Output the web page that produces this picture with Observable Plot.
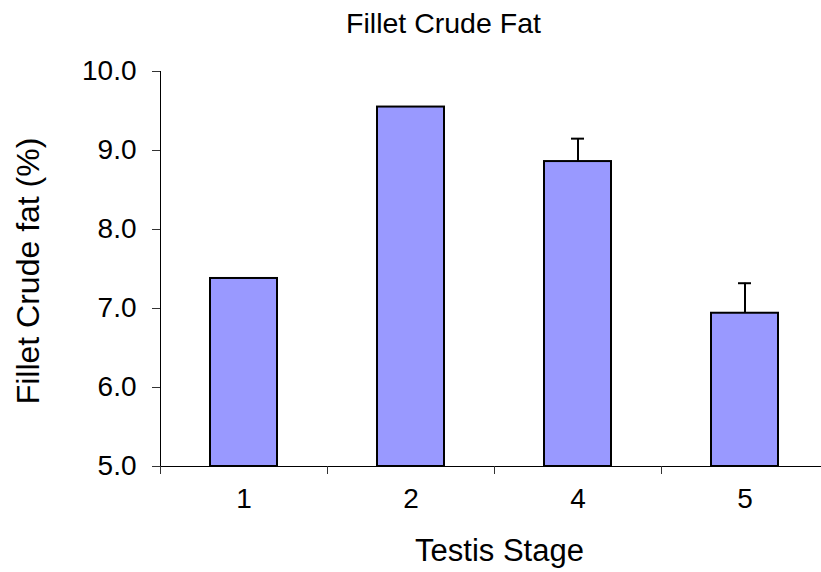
<!DOCTYPE html>
<html><head><meta charset="utf-8">
<script src="https://cdn.jsdelivr.net/npm/d3@7"></script>
<script src="https://cdn.jsdelivr.net/npm/@observablehq/plot@0.6"></script>
<style>
html,body{margin:0;padding:0;background:#fff;overflow:hidden}
#wrap{position:relative;width:821px;height:572px;overflow:hidden;background:#fff}
#wrap svg{max-width:none !important}
</style></head><body>
<div id="wrap"></div>
<script>
// ---- data ----
const stages = ["1", "2", "4", "5"];
const fatMeans = [7.38, 9.55, 8.86, 6.94];
const fatErrors = [null, null, 0.29, 0.38];
const yTicks = [5, 6, 7, 8, 9, 10];
const titleText = "Fillet Crude Fat";
const xLabelText = "Testis Stage";
const yLabelText = "Fillet Crude fat (%)";

const rows = stages.map((s, i) => ({stage: s, value: fatMeans[i], err: fatErrors[i]}));
const errRows = rows.filter(d => d.err != null);

const font = "'Liberation Sans', Arial, Helvetica, sans-serif";

const plot = Plot.plot({
  width: 829,
  height: 572,
  marginLeft: 160,
  marginRight: 1,
  marginTop: 71,
  marginBottom: 106,
  style: {fontFamily: font, background: "white", color: "black", overflow: "visible", maxWidth: "none"},
  x: {type: "band", domain: stages, paddingInner: 0.6, paddingOuter: 0.3},
  y: {domain: [5, 10]},
  marks: [
    Plot.barY(rows, {x: "stage", y1: 5, y2: "value", fill: "#9999FF", stroke: "black", strokeWidth: 2}),
    Plot.ruleX(errRows, {x: "stage", y1: "value", y2: d => d.value + d.err, stroke: "black", strokeWidth: 2}),
    Plot.tickY(errRows, {x: "stage", y: d => d.value + d.err, stroke: "black", strokeWidth: 2, insetLeft: 27, insetRight: 27}),
    Plot.frame({anchor: "left", stroke: "black", strokeWidth: 1}),
    Plot.ruleY([5], {stroke: "black", strokeWidth: 1}),
    // category boundary ticks on x axis
    Plot.ruleX(stages, {x: d => d, y1: 5, y2: 5, insetBottom: -8, dx: -83.5, stroke: "#333", strokeWidth: 1}),
    Plot.ruleX(stages.slice(-1), {x: d => d, y1: 5, y2: 5, insetBottom: -8, dx: 83.5, stroke: "#333", strokeWidth: 1}),
    Plot.axisX({tickSize: 0, tickPadding: 22, fontSize: 28, label: null}),
    Plot.axisY({ticks: yTicks, tickFormat: d3.format(".1f"), tickSize: 8, tickPadding: 16, fontSize: 28, label: null, stroke: "#333"}),
    Plot.text([titleText], {frameAnchor: "top", text: d => d, textAnchor: "middle", lineAnchor: "middle", dx: -51, dy: -48, fontSize: 28.5, fill: "black"}),
    Plot.text([xLabelText], {frameAnchor: "bottom", text: d => d, textAnchor: "middle", lineAnchor: "middle", dx: 5, dy: 85, fontSize: 31, fill: "black"}),
    Plot.text([yLabelText], {frameAnchor: "left", text: d => d, textAnchor: "middle", lineAnchor: "middle", rotate: -90, dx: -132, dy: 2, fontSize: 32, fill: "black"})
  ]
});
document.getElementById("wrap").appendChild(plot);
</script>
</body></html>
